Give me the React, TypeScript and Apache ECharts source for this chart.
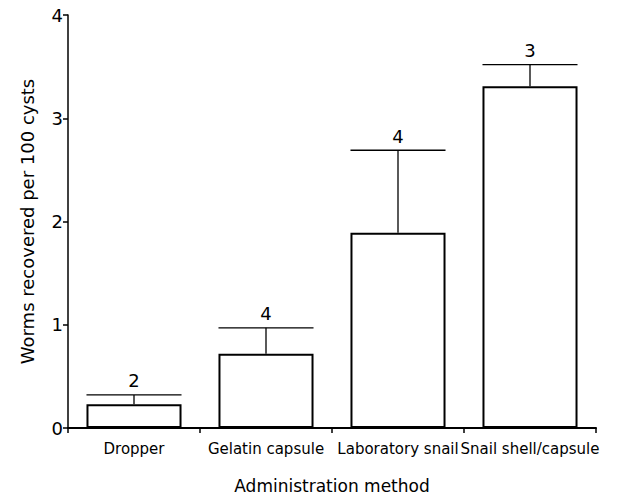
import React, { useEffect, useRef } from "react";
import * as echarts from "echarts";

const categories = ["Dropper", "Gelatin capsule", "Laboratory snail", "Snail shell/capsule"];
const means = [0.23, 0.72, 1.89, 3.31];
const errorTops = [0.32, 0.97, 2.69, 3.52];
const sampleSizes = [2, 4, 4, 3];
const yTicks = [0, 1, 2, 3, 4];

const FONT = "'DejaVu Sans', 'Liberation Sans', Arial, sans-serif";

export default function App() {
  const ref = useRef<HTMLDivElement>(null);
  useEffect(() => {
    document.body.style.margin = "0";
    const chart = echarts.init(ref.current!, null, { renderer: "svg" });
    const errData = categories.map((_, i) => [i, means[i], errorTops[i], sampleSizes[i]]);
    chart.setOption({
      animation: false,
      backgroundColor: "#fff",
      grid: { left: 68, right: 23, top: 15, bottom: 67, containLabel: false, outerBoundsMode: "none" },
      xAxis: {
        type: "category",
        data: categories,
        name: "Administration method",
        nameLocation: "middle",
        nameGap: 49,
        nameTextStyle: { color: "#000", fontFamily: FONT, fontSize: 17 },
        axisLine: { lineStyle: { color: "#000", width: 2 } },
        axisTick: { show: true, length: 5, lineStyle: { color: "#000", width: 1.5 } },
        axisLabel: { color: "#000", fontFamily: FONT, fontSize: 15, margin: 13, interval: 0, hideOverlap: false },
      },
      yAxis: {
        type: "value",
        min: yTicks[0],
        max: yTicks[yTicks.length - 1],
        interval: 1,
        name: "Worms recovered per 100 cysts",
        nameLocation: "middle",
        nameGap: 32,
        nameTextStyle: { color: "#000", fontFamily: FONT, fontSize: 18 },
        axisLine: { show: true, lineStyle: { color: "#000", width: 1.5 } },
        axisTick: { show: true, length: 5, lineStyle: { color: "#000", width: 1.5 } },
        axisLabel: { color: "#000", fontFamily: FONT, fontSize: 18, margin: 5 },
        splitLine: { show: false },
      },
      series: [
        {
          type: "bar",
          data: means,
          barWidth: "72%",
          itemStyle: { color: "#fff", borderColor: "#000", borderWidth: 2 },
          z: 2,
        },
        {
          type: "custom",
          data: errData,
          z: 3,
          renderItem: (params: any, api: any) => {
            const i = api.value(0);
            const base = api.coord([i, api.value(1)]);
            const top = api.coord([i, api.value(2)]);
            const w = api.size([1, 0])[0] * 0.72;
            return {
              type: "group",
              children: [
                {
                  type: "line",
                  shape: { x1: top[0], y1: base[1], x2: top[0], y2: top[1] },
                  style: { stroke: "#000", lineWidth: 1.3 },
                },
                {
                  type: "line",
                  shape: { x1: top[0] - w / 2, y1: top[1], x2: top[0] + w / 2, y2: top[1] },
                  style: { stroke: "#000", lineWidth: 1.3 },
                },
                {
                  type: "text",
                  x: top[0],
                  y: top[1] - 5,
                  style: {
                    text: String(api.value(3)),
                    align: "center",
                    verticalAlign: "bottom",
                    fill: "#000",
                    fontFamily: FONT,
                    fontSize: 18,
                  },
                },
              ],
            };
          },
        },
      ],
    });
    return () => chart.dispose();
  }, []);
  return <div ref={ref} style={{ width: 619, height: 495 }} />;
}
